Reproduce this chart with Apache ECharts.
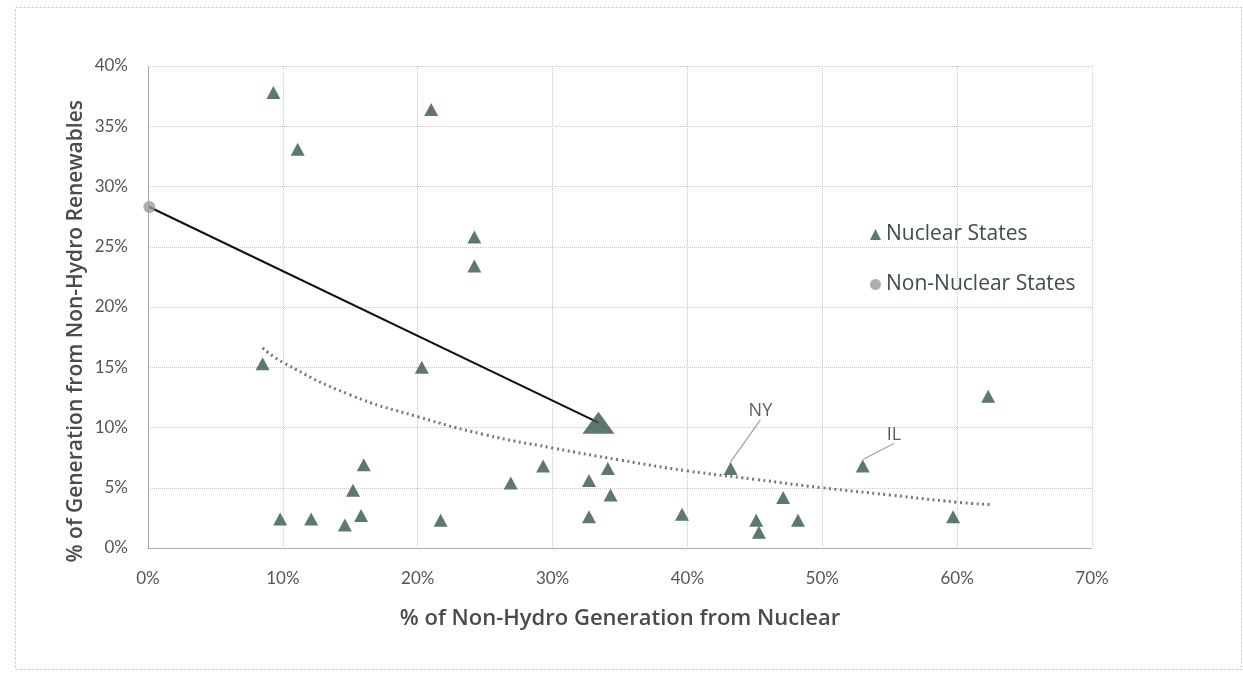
<!DOCTYPE html>
<html>
<head>
<meta charset="utf-8">
<script src="https://cdn.jsdelivr.net/npm/echarts@6/dist/echarts.min.js"></script>
<style>
html,body{margin:0;padding:0;background:#fff;}
#c{width:1243px;height:673px;}
</style>
</head>
<body>
<div id="c"></div>
<script>
// ---- data (percent) ----
var xTicks = ['0%','10%','20%','30%','40%','50%','60%','70%'];
var yTicks = ['0%','5%','10%','15%','20%','25%','30%','35%','40%'];

var nuclearNames = ['','','','','','','','','','','','','','','','','','','','','','NY','','','','','IL','',''];
var nuclearX = [9.3, 21.0, 11.1, 24.2, 24.2, 8.5, 20.3, 16.0, 15.2, 9.8, 12.1, 14.6, 15.8, 21.7, 26.9, 29.3, 32.7, 34.1, 34.3, 32.7, 39.6, 43.2, 45.1, 45.3, 47.1, 48.2, 53.0, 59.7, 62.3];
var nuclearY = [37.8, 36.4, 33.1, 25.8, 23.4, 15.3, 15.0, 6.9, 4.8, 2.4, 2.4, 1.9, 2.7, 2.3, 5.4, 6.8, 5.6, 6.6, 4.4, 2.6, 2.8, 6.6, 2.3, 1.3, 4.2, 2.3, 6.8, 2.6, 12.6];

var nonNuclearX = [0.1];
var nonNuclearY = [28.3];

var nuclearAvgX = [33.4];
var nuclearAvgY = [10.4];

var trendX = [8.5, 10, 15, 20, 25, 30, 35, 40, 45, 50, 55, 60, 62.5];
var trendY = [16.6, 15.4, 12.7, 10.9, 9.4, 8.3, 7.3, 6.4, 5.7, 5.0, 4.4, 3.8, 3.6];

// ---- build ----
function zip(a, b) { return a.map(function (v, i) { return [v, b[i]]; }); }
var nuclearData = nuclearX.map(function (v, i) {
  var d = { value: [v, nuclearY[i]], name: nuclearNames[i] };
  if (nuclearNames[i]) {
    d.label = { show: true, formatter: nuclearNames[i] };
    d.labelLine = { show: true };
  }
  return d;
});

var font = 'Lato, "Open Sans", "DejaVu Sans", sans-serif';
var wideFont = '"Open Sans", "DejaVu Sans", sans-serif';
var markerColor = '#34564b';

var chart = echarts.init(document.getElementById('c'), null, { renderer: 'canvas' });
chart.setOption({
  backgroundColor: '#ffffff',
  animation: false,
  graphic: [{
    type: 'rect', left: 13, top: 5,
    shape: { width: 1226, height: 662 },
    style: { fill: 'none', stroke: '#c4c4c4', lineWidth: 1, lineDash: [2, 2] },
    silent: true
  }, {
    type: 'text', left: 66, top: 100, rotation: Math.PI / 2,
    originX: 0, originY: 0,
    style: {
      text: '% of Generation from Non-Hydro Renewables',
      font: '600 21px ' + wideFont, fill: '#4a4a4a'
    },
    silent: true
  }],
  grid: { left: 148, right: 151, top: 66, bottom: 125, containLabel: false },
  legend: {
    orient: 'vertical',
    left: 865, top: 219,
    itemGap: 29, itemWidth: 11, itemHeight: 11,
    textStyle: { fontFamily: wideFont, fontSize: 21, color: '#3f4d49' },
    data: [
      { name: 'Nuclear States', icon: 'triangle', itemStyle: { color: markerColor } },
      { name: 'Non-Nuclear States', icon: 'circle', itemStyle: { color: '#9a9a9a' } }
    ]
  },
  xAxis: {
    type: 'value', min: 0, max: 70, interval: 10,
    name: '% of Non-Hydro Generation from Nuclear',
    nameLocation: 'middle', nameGap: 60,
    nameTextStyle: { fontFamily: wideFont, fontSize: 22, fontWeight: 600, color: '#4a4a4a' },
    axisLine: { show: true, lineStyle: { color: '#9a9a9a', type: 'dotted' } },
    axisTick: { show: false },
    axisLabel: {
      fontFamily: font, fontSize: 17, color: '#555', margin: 22,
      formatter: function (v) { return xTicks[Math.round(v / 10)]; }
    },
    splitLine: { show: true, lineStyle: { color: '#c8c8c8', type: 'dotted', width: 1 } }
  },
  yAxis: {
    type: 'value', min: 0, max: 40, interval: 5,
    axisLine: { show: true, lineStyle: { color: '#9a9a9a', type: 'dotted' } },
    axisTick: { show: false },
    axisLabel: {
      fontFamily: font, fontSize: 17, color: '#555', margin: 20,
      formatter: function (v) { return yTicks[Math.round(v / 5)]; }
    },
    splitLine: { show: true, lineStyle: { color: '#c8c8c8', type: 'dotted', width: 1 } }
  },
  series: [
    {
      name: 'Trend', type: 'line', data: zip(trendX, trendY),
      showSymbol: false, symbol: 'none', smooth: true, silent: true,
      lineStyle: { color: '#707c78', width: 3, type: [2, 3.5] },
      z: 2
    },
    {
      name: 'Shift', type: 'line',
      data: [[nonNuclearX[0], nonNuclearY[0]], [nuclearAvgX[0], nuclearAvgY[0]]],
      showSymbol: false, symbol: 'none', silent: true,
      lineStyle: { color: '#111', width: 2 },
      z: 3
    },
    {
      name: 'Nuclear States', type: 'scatter', symbol: 'triangle', symbolSize: [14, 13],
      itemStyle: { color: markerColor },
      data: nuclearData,
      label: {
        show: false, fontFamily: wideFont, fontSize: 18, color: '#333',
        position: 'right'
      },
      labelLine: { show: false, lineStyle: { color: '#a0a0a0', width: 1.2 } },
      labelLayout: function (params) {
        var r = params.rect;
        var name = nuclearNames[params.dataIndex];
        if (name === 'NY') return { x: r.x + r.width + 11, y: r.y - 51, align: 'left', verticalAlign: 'middle' };
        if (name === 'IL') return { x: r.x + r.width + 17, y: r.y - 25, align: 'left', verticalAlign: 'middle' };
        return {};
      },
      z: 4
    },
    {
      name: 'Nuclear Average', type: 'scatter', symbol: 'triangle', symbolSize: [32, 22],
      itemStyle: { color: markerColor },
      data: zip(nuclearAvgX, nuclearAvgY),
      z: 5
    },
    {
      name: 'Non-Nuclear States', type: 'scatter', symbol: 'circle', symbolSize: 12,
      itemStyle: { color: '#9a9a9a' },
      data: zip(nonNuclearX, nonNuclearY),
      z: 5
    }
  ]
});
</script>
</body>
</html>
